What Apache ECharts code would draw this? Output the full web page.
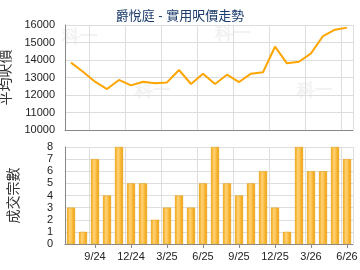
<!DOCTYPE html>
<html><head><meta charset="utf-8">
<script src="https://cdn.jsdelivr.net/npm/echarts@6/dist/echarts.min.js"></script>
<style>html,body{margin:0;padding:0;background:#fff}#c{width:360px;height:270px}</style>
</head><body><div id="c"></div>
<script>
const months = ['7/24','8/24','9/24','10/24','11/24','12/24','1/25','2/25','3/25','4/25','5/25','6/25','7/25','8/25','9/25','10/25','11/25','12/25','1/26','2/26','3/26','4/26','5/26','6/26'];
const tickLabels = ['9/24','12/24','3/25','6/25','9/25','12/25','3/26','6/26'];
const avgPrice = [13850,13330,12760,12340,12860,12550,12760,12670,12720,13430,12630,13220,12630,13160,12740,13220,13300,14760,13810,13900,14380,15370,15730,15850];
const deals = [3,1,7,4,8,5,5,2,3,4,3,5,8,5,4,5,6,3,1,8,6,6,8,7];
const priceTicks = [10000,16000,1000];
const dealTicks = [0,8,1];

const chart = echarts.init(document.getElementById('c'), null, {renderer:'canvas'});
const font = 'Arial, "Liberation Sans", "Noto Sans CJK TC", sans-serif';
const showTick = (i) => tickLabels.indexOf(months[i]) >= 0;
const xBase = {
  type:'category', data: months, boundaryGap:true,
  axisLine:{show:true, lineStyle:{color:'#888', width:1}},
  axisTick:{show:true, alignWithLabel:true, interval:(i)=>showTick(i), length:4, lineStyle:{color:'#888'}},
  splitLine:{show:true, interval:(i)=>showTick(i), lineStyle:{color:'#ddd', width:1}},
};
const barGrad = new echarts.graphic.LinearGradient(0,0,1,0,[
  {offset:0,color:'#eea000'},{offset:0.35,color:'#ffd27a'},{offset:0.6,color:'#fcc350'},{offset:1,color:'#eb9c00'}
]);
chart.setOption({
  animation:false,
  title:{text:'爵悅庭 - 實用呎價走勢', left:'center', top:5, textStyle:{fontSize:13, fontWeight:'normal', color:'#1c3c6c', fontFamily:font}},
  graphic:[
    {type:'text', left:62, top:28, style:{text:'科一', fontSize:18, fontWeight:'bold', fill:'#f2f2f2'}, z:0},
    {type:'text', left:215, top:25, style:{text:'科一', fontSize:18, fontWeight:'bold', fill:'#f2f2f2'}, z:0},
    {type:'text', left:135, top:82, style:{text:'科一', fontSize:18, fontWeight:'bold', fill:'#f2f2f2'}, z:0},
    {type:'text', left:297, top:82, style:{text:'科一', fontSize:18, fontWeight:'bold', fill:'#f2f2f2'}, z:0},
  ],
  grid:[
    {left:65, right:7, top:25, height:105, outerBoundsMode:'none', containLabel:false},
    {left:65, right:7, top:147, height:97, outerBoundsMode:'none', containLabel:false}
  ],
  xAxis:[
    Object.assign({}, xBase, {gridIndex:0, axisLabel:{show:false}, axisTick:{show:false}}),
    Object.assign({}, xBase, {gridIndex:1, axisLabel:{show:true, interval:(i)=>showTick(i), color:'#222', fontSize:11, fontFamily:font, margin:7}})
  ],
  yAxis:[
    {gridIndex:0, type:'value', min:priceTicks[0], max:priceTicks[1], interval:priceTicks[2],
     name:'平均呎價', nameLocation:'middle', nameGap:44, nameRotate:90,
     nameTextStyle:{fontSize:14, color:'#333', fontFamily:font},
     axisLine:{show:true, lineStyle:{color:'#888'}}, axisTick:{show:false},
     axisLabel:{color:'#222', fontSize:11, fontFamily:font, margin:10, formatter:(v)=>String(v)},
     splitLine:{lineStyle:{color:'#ddd'}}},
    {gridIndex:1, type:'value', min:dealTicks[0], max:dealTicks[1], interval:dealTicks[2],
     name:'成交宗數', nameLocation:'middle', nameGap:44, nameRotate:90,
     nameTextStyle:{fontSize:14, color:'#333', fontFamily:font},
     axisLine:{show:true, lineStyle:{color:'#888'}}, axisTick:{show:false},
     axisLabel:{color:'#222', fontSize:11, fontFamily:font, margin:12},
     splitLine:{lineStyle:{color:'#ddd'}}}
  ],
  series:[
    {type:'line', xAxisIndex:0, yAxisIndex:0, data:avgPrice, symbol:'none', z:3,
     lineStyle:{color:'#ffa500', width:2}},
    {type:'bar', xAxisIndex:1, yAxisIndex:1, data:deals, barWidth:8, z:3,
     itemStyle:{color:barGrad, borderColor:'#e89a00', borderWidth:0.5}}
  ]
});
</script></body></html>
